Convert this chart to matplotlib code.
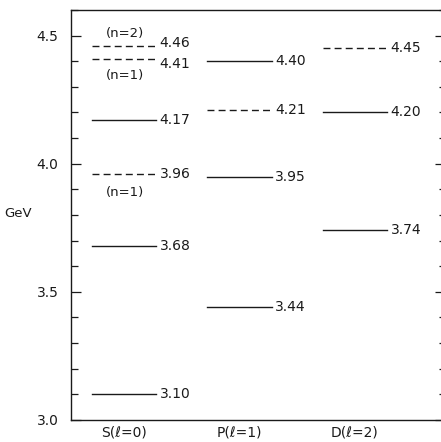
import matplotlib

matplotlib.use("Agg")

import matplotlib.pyplot as plt
from matplotlib.ticker import MultipleLocator

# charmonium levels per orbital column, mass in GeV, dashed = predicted
columns = ["S(ℓ=0)", "P(ℓ=1)", "D(ℓ=2)"]
s_levels = [3.10, 3.68, 3.96, 4.17, 4.41, 4.46]
s_dashed = [False, False, True, False, True, True]
p_levels = [3.44, 3.95, 4.21, 4.40]
p_dashed = [False, False, True, False]
d_levels = [3.74, 4.20, 4.45]
d_dashed = [False, False, True]

# (mass, note, offset in points) for the radial quantum number notes
notes = [(4.46, "(n=2)", 9), (4.41, "(n=1)", -12), (3.96, "(n=1)", -13)]
# small vertical nudges of the S value labels (points)
label_nudge = {4.46: 2, 4.41: -4}

ink = "#1a1a1a"
half = 0.278

fig = plt.figure(figsize=(4.41, 4.42), dpi=100)
ax = fig.add_axes([0.161, 0.0498, 0.842, 0.9276])

for col, (levels, dashed) in enumerate(
    [(s_levels, s_dashed), (p_levels, p_dashed), (d_levels, d_dashed)]
):
    for value, is_dashed in zip(levels, dashed):
        ls = (0, (5, 3)) if is_dashed else "-"
        ax.plot([col - half, col + half], [value, value], color=ink, lw=1.0, ls=ls)
        ax.annotate(
            f"{value:.2f}",
            xy=(col + half + 0.03, value),
            xytext=(0, label_nudge.get(value, 0) if col == 0 else 0),
            textcoords="offset points",
            va="center",
            ha="left",
            fontsize=10,
            color=ink,
        )

for value, text, dy in notes:
    ax.annotate(
        text,
        xy=(0.01, value),
        xytext=(0, dy),
        textcoords="offset points",
        ha="center",
        va="center",
        fontsize=9.5,
        color=ink,
    )

ax.set_xlim(-0.4609, 2.757)
ax.set_ylim(3.0, 4.60)
ax.set_xticks(range(len(columns)))
ax.set_xticklabels(columns, fontsize=10, color=ink)
ax.tick_params(axis="x", length=0, pad=4)

ax.yaxis.set_major_locator(MultipleLocator(0.5))
ax.yaxis.set_minor_locator(MultipleLocator(0.1))
ax.set_yticklabels([f"{v:.1f}" for v in ax.get_yticks()])
ax.tick_params(axis="y", which="major", direction="in", length=7, width=0.9,
               pad=9, labelsize=10, labelcolor=ink, color=ink)
ax.tick_params(axis="y", which="minor", direction="in", length=5, width=0.9,
               color=ink)

for side in ["left", "top", "bottom"]:
    ax.spines[side].set_color(ink)
    ax.spines[side].set_linewidth(1.0)
ax.spines["right"].set_visible(False)

# short ticks along the (cut off) right edge
rax = ax.twinx()
rax.set_ylim(ax.get_ylim())
rax.yaxis.set_major_locator(MultipleLocator(0.5))
rax.yaxis.set_minor_locator(MultipleLocator(0.1))
rax.tick_params(axis="y", which="major", direction="in", length=5, width=0.9,
                labelright=False, color=ink)
rax.tick_params(axis="y", which="minor", direction="in", length=2.5, width=0.9,
                color=ink)
for side in rax.spines.values():
    side.set_visible(False)

fig.text(0.01, 1 - 213 / 442, "GeV", va="center", ha="left", fontsize=9.5, color=ink)

fig.savefig("out.png", dpi=100)
